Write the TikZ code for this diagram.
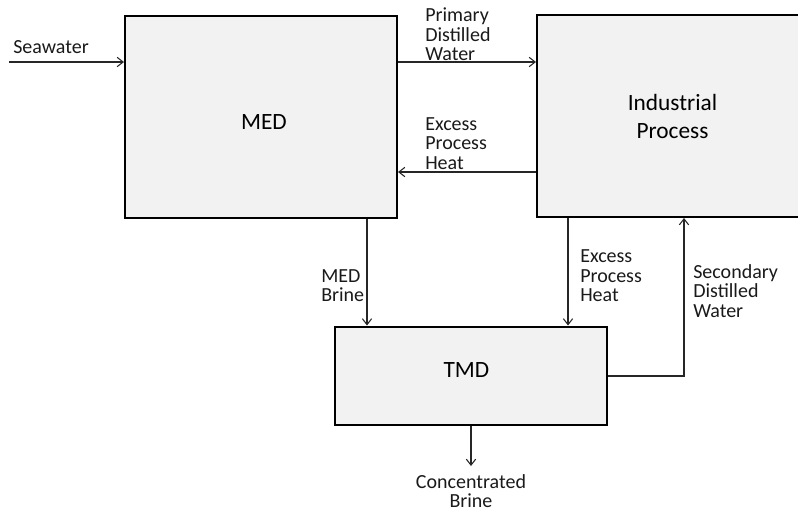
\documentclass[tikz,border=0pt]{standalone}
\usepackage{fontspec}
\setmainfont{Carlito}
\usetikzlibrary{arrows.meta}
\begin{document}
\begin{tikzpicture}[x=0.75pt,y=-0.75pt,
  unit/.style={draw=black,line width=1.5pt,fill=boxfill,inner sep=0pt,
    font=\fontsize{17.5}{21}\selectfont,align=center},
  flow/.style={draw=linecol,line width=0.8pt,
    -{Straight Barb[length=4.5pt,width=7pt,line width=0.8pt]}},
  tag/.style={inner sep=0pt,align=left,font=\fontsize{15}{14.6}\selectfont,text=txtcol}]
\definecolor{boxfill}{HTML}{F2F2F2}
\definecolor{linecol}{HTML}{262626}
\definecolor{txtcol}{HTML}{1A1A1A}
\useasboundingbox (0,0) rectangle (798,512);
\clip (0,0) rectangle (798,512);

% process units (text height/depth set the label a little off centre)
\node[unit,minimum width=204pt,minimum height=151.5pt,text height=18.8pt,text depth=0pt] (med) at (261,117) {\hspace*{4.5pt}MED};
\node[unit,minimum width=203.25pt,minimum height=151.5pt] (ind) at (672.5,116) {Industrial\\Process};
\node[unit,minimum width=204pt,minimum height=73.5pt,text height=11.3pt,text depth=9pt] (tmd) at (471,375.5) {TMD\hspace*{7pt}};

% free ends
\coordinate (sea) at (9,62);
\coordinate (conc) at (471,466);
\coordinate (corner) at (684,376);

% streams between units
\draw[flow] (sea) -- (sea -| med.west);
\draw[flow] (med.east |- 0,62) -- (ind.west |- 0,62);
\draw[flow] (ind.west |- 0,172) -- (med.east |- 0,172);
\draw[flow] (med.south -| 367,0) -- (tmd.north -| 367,0);
\draw[flow] (ind.south -| 568,0) -- (tmd.north -| 568,0);
\draw[flow] (tmd.east |- corner) -- (corner) -- (ind.south -| corner);
\draw[flow] (tmd.south -| conc) -- (conc);

% stream labels
\node[tag,anchor=west] (lsea) at (13,47) {Seawater};
\node[tag,anchor=west] (lpdw) at (425,34.5) {Primary\\Distilled\\Water};
\node[tag,anchor=west] (lheat1) at (425,143.5) {Excess\\Process\\Heat};
\node[tag,anchor=west] (lbrine) at (321,285.5) {MED\\Brine};
\node[tag,anchor=west] (lheat2) at (580,276) {Excess\\Process\\Heat};
\node[tag,anchor=west] (lsdw) at (693,291) {Secondary\\Distilled\\Water};
\node[tag,align=center] (lconc) at (471,491) {Concentrated\\Brine};
\end{tikzpicture}
\end{document}
